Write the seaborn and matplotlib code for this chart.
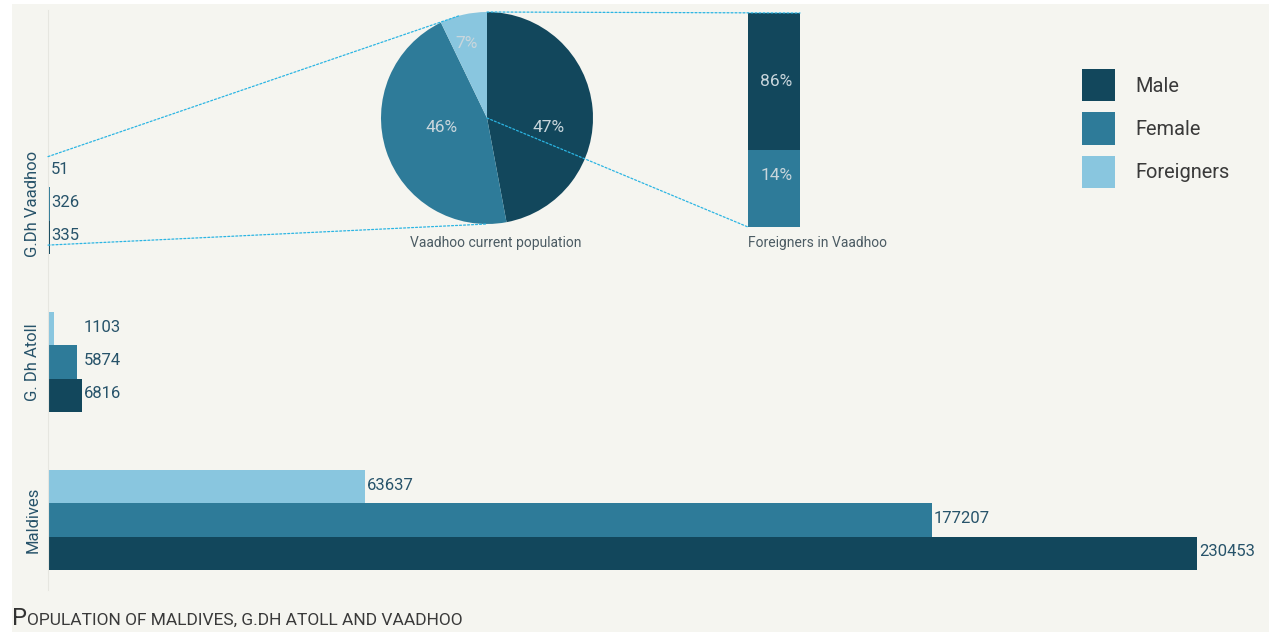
import numpy as np
import pandas as pd
import matplotlib.pyplot as plt
import seaborn as sns
from matplotlib.patches import Rectangle, ConnectionPatch, Patch

# data
regions = ['G.Dh Vaadhoo', 'G. Dh Atoll', 'Maldives']
groups = ['Foreigners', 'Female', 'Male']
foreigners = [51, 1103, 63637]
female = [326, 5874, 177207]
male = [335, 6816, 230453]

pie_labels = ['Male', 'Female', 'Foreigners']
pie_values = [335, 326, 51]

foreign_parts = ['Female', 'Male']
foreign_bar_drawn = [36, 64]          # segment sizes as drawn
foreign_pct_text = ['14%', '86%']

colors = {'Male': '#12475c', 'Female': '#2e7b99', 'Foreigners': '#89c6df'}
bg = '#f5f5f0'
line_c = '#2bb5e3'
label_c = '#27536a'
pct_c = '#c9d6dc'

sns.set_theme(style='white')
plt.rcParams['font.family'] = ['Roboto', 'DejaVu Sans']

W, H = 1274, 634
fig = plt.figure(figsize=(W / 100, H / 100), dpi=100, facecolor='white')
fig.add_artist(Rectangle((12 / W, 2 / H), 1257 / W, 628 / H, transform=fig.transFigure,
                         facecolor=bg, edgecolor='none', zorder=-10))

def px_axes(x0, y0, x1, y1):
    return fig.add_axes([x0 / W, 1 - y1 / H, (x1 - x0) / W, (y1 - y0) / H])

df = pd.DataFrame({
    'region': regions * 3,
    'group': ['Foreigners'] * 3 + ['Female'] * 3 + ['Male'] * 3,
    'value': foreigners + female + male,
})

# main bar chart
ax = px_axes(48, 10, 1270, 590)
ax.set_facecolor('none')
sns.barplot(data=df, y='region', x='value', hue='group', order=regions, hue_order=groups,
            palette=colors, width=0.63, saturation=1, orient='h', legend=False,
            linewidth=0, ax=ax)
ax.set_xlim(0, 245000)
ax.set_ylim(2.443, -1.228)
ax.set_xlabel('')
ax.set_ylabel('')
ax.set_xticks([])
ax.tick_params(axis='y', length=0, pad=11)
for t in ax.get_yticklabels():
    t.set_rotation(90)
    t.set_va('center')
    t.set_ha('center')
    t.set_color(label_c)
    t.set_fontsize(12)
for s in ['top', 'right', 'bottom']:
    ax.spines[s].set_visible(False)
ax.spines['left'].set_color('#e6e6e0')
ax.spines['left'].set_linewidth(0.8)

bar_h = 0.21
label_at_group_max = [True, True, False]
for i, r in enumerate(regions):
    vals = [foreigners[i], female[i], male[i]]
    for j, v in enumerate(vals):
        xl = max(vals) if label_at_group_max[i] else v
        ax.annotate(str(v), xy=(xl, i + (j - 1) * bar_h), xytext=(1, 1),
                    textcoords='offset points', va='center', ha='left',
                    fontsize=12, color=label_c)

# pie of Vaadhoo population
axp = px_axes(381, 12, 593, 224)
wedges, _, autotexts = axp.pie(pie_values, colors=[colors[k] for k in pie_labels],
                               startangle=90, counterclock=False, autopct='%.0f%%',
                               pctdistance=0.62, wedgeprops={'linewidth': 0},
                               textprops={'color': pct_c, 'fontsize': 12.5})
# label spots as placed in the original
for t, pos in zip(autotexts, [(0.585, -0.094), (-0.425, -0.094), (-0.19, 0.70)]):
    t.set_position(pos)
axp.set_xlim(-1, 1)
axp.set_ylim(-1, 1)
axp.set_aspect('equal')
axp.axis('off')
fig.text(496 / W, 1 - 243 / H, 'Vaadhoo current population', ha='center', va='center',
         fontsize=10, color='#4b5b63')

# stacked bar of foreigners
axb = px_axes(748, 13, 800, 227)
axb.set_facecolor('none')
fb = pd.DataFrame({'k': ['Foreigners in Vaadhoo'], 'total': [sum(foreign_bar_drawn)],
                   'low': [foreign_bar_drawn[0]]})
sns.barplot(data=fb, x='k', y='total', color=colors['Male'], width=1, saturation=1,
            linewidth=0, ax=axb)
sns.barplot(data=fb, x='k', y='low', color=colors['Female'], width=1, saturation=1,
            linewidth=0, ax=axb)
axb.set_xlim(-0.5, 0.5)
axb.set_ylim(0, sum(foreign_bar_drawn))
axb.axis('off')
bottom = 0
for h, t, shift in zip(foreign_bar_drawn, foreign_pct_text, [6, 0]):
    axb.text(0.05, bottom + h / 2 + shift, t, ha='center', va='center', fontsize=12.5,
             color=pct_c)
    bottom += h
fig.text(748 / W, 1 - 243 / H, 'Foreigners in Vaadhoo', ha='left', va='center',
         fontsize=10, color='#4b5b63')

# dotted connectors
ang = np.deg2rad(105)
links = [
    ((0, -0.3), ax, (np.cos(ang), np.sin(ang)), axp),
    ((0, 0.26), ax, (0, -1), axp),
    ((0, 1), axp, (0.5, sum(foreign_bar_drawn)), axb),
    ((0, 0), axp, (-0.5, 0), axb),
]
for xyA, aA, xyB, aB in links:
    con = ConnectionPatch(xyA=xyA, coordsA=aA.transData, xyB=xyB, coordsB=aB.transData,
                          color=line_c, lw=0.9, linestyle=(0, (1.6, 1.6)), zorder=20)
    fig.add_artist(con)

# legend
handles = [Patch(facecolor=colors[k], edgecolor='none') for k in pie_labels]
fig.legend(handles, pie_labels, loc='upper left', bbox_to_anchor=(1082 / W, 1 - 69 / H),
           frameon=False, fontsize=14.4, handlelength=1.65, handleheight=2.12,
           handletextpad=1.0, labelspacing=0.55, borderpad=0, borderaxespad=0,
           labelcolor='#3a3a3a')

# title in small caps
fig.text(12 / W, 1 - 625 / H, 'P', fontsize=17, color='#333333',
         va='baseline', ha='left')
fig.text(27 / W, 1 - 625 / H, 'OPULATION OF MALDIVES, G.DH ATOLL AND VAADHOO', fontsize=12.5,
         color='#3a3a3a', va='baseline', ha='left')

fig.savefig('out.png', dpi=100, facecolor='white')
